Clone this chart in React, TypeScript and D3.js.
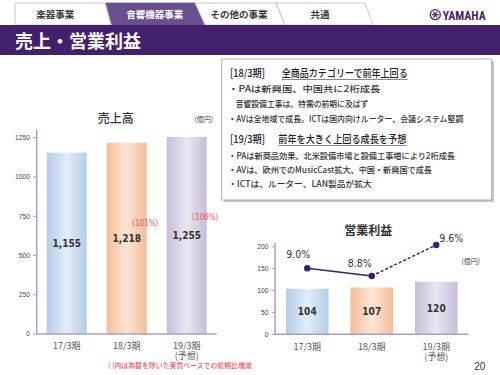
import React from 'react';
import * as d3 from 'd3';

// ---- data ----
const periods = ['17/3期', '18/3期', '19/3期'];
const periodSub = ['', '', '(予想)'];
const sales = [1155, 1218, 1255];
const salesGrowth = ['', '(101%)', '(106%)'];
const salesTicks = [0, 250, 500, 750, 1000, 1250];
const profit = [104, 107, 120];
const profitTicks = [0, 50, 100, 150, 200];
const margin = [9.0, 8.8, 9.6];
const tabs = ['楽器事業', '音響機器事業', 'その他の事業', '共通'];
const heading1 = ['[18/3期]', '全商品カテゴリーで前年上回る'];
const notes1 = [
  '・PAは新興国、中国共に2桁成長',
  '音響設備工事は、特需の前期に及ばず',
  '・AVは全地域で成長。ICTは国内向けルーター、会議システム堅調',
];
const heading2 = ['[19/3期]', '前年を大きく上回る成長を予想'];
const notes2 = [
  '・PAは新商品効果、北米設備市場と設備工事増により2桁成長',
  '・AVは、欧州でのMusicCast拡大、中国・新興国で成長',
  '・ICTは、ルーター、LAN製品が拡大',
];

// ---- layout / style ----
const JP = "'Noto Sans CJK JP', 'Noto Sans', sans-serif";
const NUM = "'DejaVu Sans Condensed', 'DejaVu Sans', sans-serif";
const AX = "'Liberation Sans', Arial, sans-serif";
const barGrad = [
  ['#b3cce8', '#e3edf8'],
  ['#f4bd98', '#fce5d5'],
  ['#c6bdd7', '#eae6f1'],
];
const axisColor = '#a99fc2';
const lineColor = '#3e1d6c';
const marginLabelOffset = [[-9, -10], [-12, -9], [15, -3.5]];
const notes1Layout = [{ x: 228.3, y: 92, w: 152 }, { x: 235.7, y: 106.5, w: 132.6 }, { x: 228.3, y: 121.5, w: 235 }];
const notes2Layout = [{ x: 228.3, y: 158.5, w: 226.7 }, { x: 228.3, y: 172.5, w: 203.7 }, { x: 228.3, y: 186.5, w: 143.4 }];

export default function App() {
  // left chart scales
  const xL = d3.scaleBand<string>().domain(periods).range([36.7, 216.7]).paddingInner(1 / 3).paddingOuter(1 / 6);
  const yL = d3.scaleLinear().domain([0, 1250]).range([334, 137.7]);
  // right chart scales
  const xR = d3.scaleBand<string>().domain(periods).range([275, 468.5]).paddingInner(0.34).paddingOuter(0.17);
  const yR = d3.scaleLinear().domain([0, 200]).range([334.3, 246.7]);
  const yP = d3.scaleLinear().domain([7.3, 9.6]).range([334, 245]);

  const pts: [number, number][] = margin.map((m, i) => [xR(periods[i])! + xR.bandwidth() / 2, yP(m)]);
  const line = d3.line();

  const tabShapes = [
    { pts: [[15, 3], [105, 3], [111, 25], [15, 25]], active: false },
    { pts: [[106, 3], [195, 3], [205, 25], [112, 25]], active: true },
    { pts: [[195, 3], [276, 3], [285, 25], [205, 25]], active: false },
    { pts: [[276, 3], [365, 3], [373, 25], [285, 25]], active: false },
  ];
  const tabCx = [55.3, 154.7, 239, 320];

  return (
    <svg width={500} height={375} style={{ position: 'absolute', left: 0, top: 0, background: '#fff' }}>
      <defs>
        {barGrad.map((g, i) => (
          <linearGradient key={i} id={`bg${i}`} x1="0" x2="1" y1="0" y2="0">
            <stop offset="0" stopColor={g[0]} />
            <stop offset="0.5" stopColor={g[1]} />
            <stop offset="1" stopColor={g[0]} />
          </linearGradient>
        ))}
      </defs>
      <rect x={0} y={0} width={500} height={375} fill="#fff" />

      {/* tabs */}
      {tabShapes.map((t, i) => (
        <polygon key={i} points={t.pts.map((p) => p.join(',')).join(' ')}
          fill={t.active ? '#6a4f8e' : '#fff'} stroke={t.active ? '#6a4f8e' : '#b8b8b8'} strokeWidth={0.8} />
      ))}
      {tabs.map((t, i) => (
        <text key={i} x={tabCx[i]} y={18} textAnchor="middle" fontFamily={JP} fontSize={9.5} fontWeight={700}
          fill={i === 1 ? '#fff' : '#3a3a3a'}>{t}</text>
      ))}
      {/* YAMAHA logo */}
      <g>
        <circle cx={435.3} cy={14.7} r={5} fill="none" stroke="#4a2570" strokeWidth={1.3} />
        {[0, 60, 120].map((a) => (
          <line key={a} x1={435.3 - 3.6 * Math.cos((a * Math.PI) / 180)} y1={14.7 - 3.6 * Math.sin((a * Math.PI) / 180)}
            x2={435.3 + 3.6 * Math.cos((a * Math.PI) / 180)} y2={14.7 + 3.6 * Math.sin((a * Math.PI) / 180)}
            stroke="#4a2570" strokeWidth={1.2} />
        ))}
        <text x={442.7} y={20} fontFamily="'Roboto Condensed', 'DejaVu Sans Condensed', 'Liberation Sans Narrow', Roboto, sans-serif" fontWeight={700} fontSize={13} fill="#4a2570" textLength={43}
          lengthAdjust="spacingAndGlyphs">YAMAHA</text>
      </g>

      {/* title band */}
      <rect x={0} y={25} width={500} height={30} fill="#43206b" />
      <text x={15} y={48} fontFamily={JP} fontSize={18} fontWeight={700} fill="#fff">売上・営業利益</text>

      {/* text box */}
      <rect x={224} y={61} width={270} height={141} fill="#c9c1d8" />
      <rect x={221.7} y={59} width={270} height={141} fill="#fff" stroke="#a398bb" strokeWidth={0.8} />
      <text x={230} y={77} fontFamily={JP} fontSize={10.5} fontWeight={500} fill="#222" textLength={35} lengthAdjust="spacingAndGlyphs">{heading1[0]}</text>
      <text x={281.7} y={77} fontFamily={JP} fontSize={10.5} fontWeight={500} fill="#222" textLength={126} lengthAdjust="spacingAndGlyphs">{heading1[1]}</text>
      <line x1={281.7} x2={407.7} y1={79.5} y2={79.5} stroke="#555" strokeWidth={0.7} />
      {notes1.map((n, i) => (
        <text key={i} x={notes1Layout[i].x} y={notes1Layout[i].y} fontFamily={JP} fontSize={8.5} fontWeight={500} fill="#333"
          textLength={notes1Layout[i].w} lengthAdjust="spacingAndGlyphs">{n}</text>
      ))}
      <text x={230} y={143} fontFamily={JP} fontSize={10.5} fontWeight={500} fill="#222" textLength={35} lengthAdjust="spacingAndGlyphs">{heading2[0]}</text>
      <text x={278.3} y={143} fontFamily={JP} fontSize={10.5} fontWeight={500} fill="#222" textLength={128} lengthAdjust="spacingAndGlyphs">{heading2[1]}</text>
      <line x1={278.3} x2={406.7} y1={145.5} y2={145.5} stroke="#555" strokeWidth={0.7} />
      {notes2.map((n, i) => (
        <text key={i} x={notes2Layout[i].x} y={notes2Layout[i].y} fontFamily={JP} fontSize={8.5} fontWeight={500} fill="#333"
          textLength={notes2Layout[i].w} lengthAdjust="spacingAndGlyphs">{n}</text>
      ))}

      {/* ===== left chart: 売上高 ===== */}
      <text x={115.8} y={123} textAnchor="middle" fontFamily={JP} fontSize={12} fontWeight={500} fill="#333">売上高</text>
      <text x={203.8} y={122} textAnchor="middle" fontFamily={JP} fontSize={7} fill="#444">(億円)</text>
      {sales.map((v, i) => (
        <rect key={i} x={xL(periods[i])} y={yL(v)} width={xL.bandwidth()} height={yL(0) - yL(v)} fill={`url(#bg${i})`} />
      ))}
      <line x1={36.7} x2={36.7} y1={130} y2={yL(0)} stroke={axisColor} strokeWidth={1.5} />
      <line x1={36.7} x2={216.7} y1={yL(0)} y2={yL(0)} stroke={axisColor} strokeWidth={1.5} />
      {salesTicks.map((t) => (
        <g key={t}>
          <line x1={33} x2={36.7} y1={yL(t)} y2={yL(t)} stroke={axisColor} strokeWidth={1} />
          <text x={30} y={yL(t) + 2.3} textAnchor="end" fontFamily={AX} fontSize={6.7} fill="#444">{t}</text>
        </g>
      ))}
      {sales.map((v, i) => (
        <text key={i} x={xL(periods[i])! + xL.bandwidth() / 2} y={(yL(v) + yL(0)) / 2 + 4} textAnchor="middle"
          fontFamily={NUM} fontWeight={700} fontSize={10} fill="#333">{d3.format(',')(v)}</text>
      ))}
      {salesGrowth.map((g, i) => g && (
        <text key={i} x={xL(periods[i])! + xL.bandwidth() / 2 + 18.5} y={yL(sales[i]) + 83.5} textAnchor="middle"
          fontFamily={NUM} fontSize={8} fill="#ee5068">{g}</text>
      ))}
      {periods.map((p, i) => (
        <g key={p}>
          <text x={xL(p)! + xL.bandwidth() / 2} y={348.5} textAnchor="middle" fontFamily={JP} fontSize={9} fill="#555">{p}</text>
          {periodSub[i] && <text x={xL(p)! + xL.bandwidth() / 2} y={359} textAnchor="middle" fontFamily={JP} fontSize={9} fill="#555">{periodSub[i]}</text>}
        </g>
      ))}
      <text x={108.3} y={368} fontFamily={JP} fontSize={7} fill="#ee3344" textLength={143.4} lengthAdjust="spacingAndGlyphs">( )内は為替を除いた実質ベースでの前期比増減</text>

      {/* ===== right chart: 営業利益 ===== */}
      <text x={368.3} y={235} textAnchor="middle" fontFamily={JP} fontSize={12} fontWeight={700} fill="#333">営業利益</text>
      <text x={470.8} y={264} textAnchor="middle" fontFamily={JP} fontSize={7} fill="#444">(億円)</text>
      {profit.map((v, i) => (
        <rect key={i} x={xR(periods[i])} y={yR(v)} width={xR.bandwidth()} height={yR(0) - yR(v)} fill={`url(#bg${i})`} />
      ))}
      <line x1={275} x2={275} y1={242.7} y2={yR(0)} stroke={axisColor} strokeWidth={1.5} />
      <line x1={275} x2={468.5} y1={yR(0)} y2={yR(0)} stroke={axisColor} strokeWidth={1.5} />
      {profitTicks.map((t) => (
        <g key={t}>
          <line x1={271.5} x2={275} y1={yR(t)} y2={yR(t)} stroke={axisColor} strokeWidth={1} />
          <text x={268.5} y={yR(t) + 2.3} textAnchor="end" fontFamily={AX} fontSize={6.7} fill="#444">{t}</text>
        </g>
      ))}
      {profit.map((v, i) => (
        <text key={i} x={xR(periods[i])! + xR.bandwidth() / 2} y={(yR(v) + yR(0)) / 2 + 3.8} textAnchor="middle"
          fontFamily={NUM} fontWeight={700} fontSize={10} fill="#333">{v}</text>
      ))}
      {periods.map((p, i) => (
        <g key={p}>
          <text x={xR(p)! + xR.bandwidth() / 2} y={349.5} textAnchor="middle" fontFamily={JP} fontSize={9} fill="#555">{p}</text>
          {periodSub[i] && <text x={xR(p)! + xR.bandwidth() / 2} y={360} textAnchor="middle" fontFamily={JP} fontSize={9} fill="#555">{periodSub[i]}</text>}
        </g>
      ))}
      {/* margin line */}
      <path d={line([pts[0], pts[1]])!} fill="none" stroke={lineColor} strokeWidth={1.5} />
      <path d={line([pts[1], pts[2]])!} fill="none" stroke={lineColor} strokeWidth={1.5} strokeDasharray="3,2" />
      {pts.map((p, i) => (
        <circle key={i} cx={p[0]} cy={p[1]} r={3.2} fill={lineColor} />
      ))}
      {margin.map((m, i) => (
        <text key={i} x={pts[i][0] + marginLabelOffset[i][0]} y={pts[i][1] + marginLabelOffset[i][1]} textAnchor="middle"
          fontFamily={NUM} fontSize={10.5} fill="#333">{d3.format('.1f')(m)}%</text>
      ))}

      <text x={479.7} y={370} textAnchor="middle" fontFamily={AX} fontSize={10} fill="#333">20</text>
    </svg>
  );
}
